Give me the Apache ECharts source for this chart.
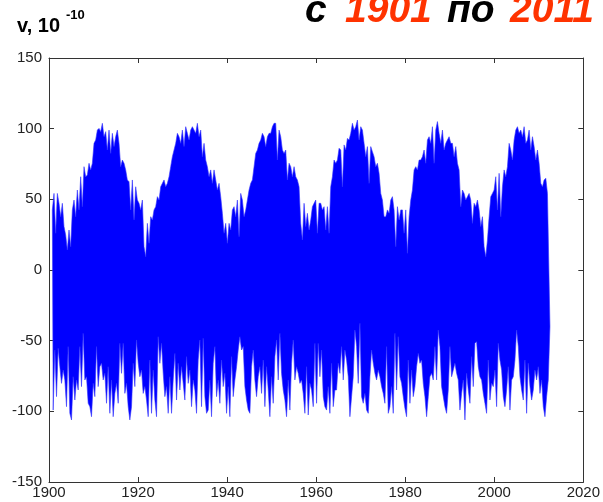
<!DOCTYPE html>
<html><head><meta charset="utf-8">
<script src="https://cdn.jsdelivr.net/npm/echarts@6/dist/echarts.min.js"></script>
<style>html,body{margin:0;padding:0;background:#fff}#c{width:603px;height:502px}</style>
</head><body><div id="c"></div>
<script>
// Tick labels
const xTicks = [1900, 1920, 1940, 1960, 1980, 2000, 2020];
const yTicks = [-150, -100, -50, 0, 50, 100, 150];

// Sampling of the signal (years)
const startYear = 1900.75;
const sampleStep = 0.3744;

// Upper extremes of the oscillation (v, 10^-10)
const upperPeaks = [
42.5,54.2,26.0,54.2,47.2,37.7,47.2,30.7,24.8,14.2,28.3,16.5,42.5,49.5,37.7,56.6,42.5,66.0,44.8,73.1,66.0,67.2,75.5,70.8,75.5,89.6,92.0,99.0,100.2,97.9,103.8,94.3,97.9,84.9,99.0,82.5,96.7,87.3,94.3,99.0,89.6,73.1,77.8,75.5,70.8,63.7,62.5,42.5,63.7,35.4,58.9,49.5,47.2,42.5,49.5,16.5,9.4,33.0,18.9,37.7,35.4,42.5,44.8,51.9,49.5,58.9,61.3,63.7,58.9,61.3,66.0,73.1,80.2,84.9,89.6,96.7,94.3,89.6,99.0,87.3,101.4,96.7,92.0,99.0,101.4,99.0,96.7,103.8,94.3,99.0,80.2,89.6,77.8,73.1,66.0,70.8,61.3,70.8,63.7,56.6,61.3,51.9,40.1,26.0,33.0,18.9,33.0,28.3,42.5,44.8,37.7,49.5,23.6,54.2,49.5,37.7,42.5,49.5,56.6,61.3,63.7,73.1,82.5,84.9,89.6,92.0,96.7,94.3,87.3,94.3,96.7,96.7,101.4,103.8,103.8,77.8,99.0,94.3,84.9,82.5,84.9,63.7,75.5,73.1,66.0,73.1,66.0,63.7,58.9,
33.0,21.2,47.2,30.7,40.1,28.3,35.4,44.8,47.2,49.5,26.0,47.2,47.2,42.5,44.8,28.3,44.8,26.0,58.9,66.0,77.8,75.5,77.8,86.1,84.9,58.9,88.5,84.9,93.1,92.0,96.7,103.8,99.0,101.4,106.1,92.0,101.4,99.0,89.6,80.2,87.3,61.3,87.3,83.7,80.2,73.1,75.5,68.4,54.2,49.5,37.7,37.7,42.5,40.1,49.5,51.9,42.5,16.5,44.8,35.4,42.5,42.5,26.0,42.5,11.8,37.7,49.5,56.6,70.8,73.1,70.8,77.8,77.8,80.2,84.9,75.5,92.0,94.3,89.6,101.4,75.5,99.0,105.0,96.7,89.6,99.0,84.9,89.6,92.0,94.3,89.6,89.6,80.2,87.3,75.5,70.8,44.8,56.6,54.2,49.5,51.9,54.2,49.5,33.0,47.2,44.8,49.5,42.5,30.7,37.7,16.5,9.4,21.2,37.7,51.9,54.2,56.6,66.0,42.5,68.4,37.7,58.9,70.8,66.0,73.1,89.6,84.9,77.8,92.0,99.0,101.4,96.7,99.0,94.3,101.4,89.6,92.0,99.0,84.9,94.3,87.3,77.8,84.9,75.5,61.3,58.9,63.7,64.9,54.2
];

// Lower extremes of the oscillation (v, 10^-10)
const lowerTroughs = [
-99.1,-56.6,-89.6,-55.4,-68.4,-80.2,-70.8,-77.8,-96.7,-54.2,-101.4,-106.1,-75.5,-92.0,-77.8,-84.9,-54.2,-82.5,-44.8,-77.8,-75.5,-94.3,-96.7,-103.8,-80.2,-89.6,-54.2,-82.5,-68.4,-66.0,-77.8,-73.1,-94.3,-68.4,-101.4,-77.8,-103.8,-87.3,-80.2,-94.3,-51.9,-73.1,-51.9,-87.3,-80.2,-96.7,-106.1,-96.7,-66.0,-82.5,-49.5,-66.0,-75.5,-70.8,-87.3,-82.5,-92.0,-103.8,-63.7,-101.4,-70.8,-92.0,-103.8,-47.2,-66.0,-51.9,-73.1,-89.6,-82.5,-101.4,-75.5,-101.4,-77.8,-59.0,-92.0,-66.0,-84.9,-68.4,-80.2,-92.0,-61.3,-80.2,-70.8,-96.7,-77.8,-84.9,-101.4,-63.7,-49.5,-96.7,-48.3,-89.6,-101.4,-99.1,-77.8,-103.8,-66.0,-54.2,-89.6,-77.8,-94.3,-63.7,-82.5,-73.1,-101.4,-82.5,-103.8,-61.3,-89.6,-77.8,-68.4,-56.6,-47.2,-56.6,-54.2,-82.5,-92.0,-99.1,-101.4,-68.4,-56.6,-77.8,-89.6,-75.5,-68.4,-87.3,-63.7,-96.7,-68.4,-84.9,-103.8,-75.5,-94.3,-61.3,-49.5,-77.8,-44.8,-73.1,-84.9,-92.0,-103.8,-77.8,-99.1,-66.0,-49.5,-77.8,-68.4,-73.1,-80.2,-77.8,
-87.3,-101.4,-68.4,-102.6,-80.2,-84.9,-96.7,-51.9,-94.3,-51.9,-75.5,-56.6,-89.6,-96.7,-99.1,-82.5,-101.4,-66.0,-96.7,-84.9,-84.9,-66.0,-73.1,-54.2,-77.8,-56.6,-63.7,-75.5,-103.8,-89.6,-75.5,-42.5,-54.2,-80.2,-37.7,-89.6,-94.3,-87.3,-99.1,-101.4,-75.5,-56.6,-66.0,-73.1,-77.8,-70.8,-75.5,-82.5,-87.3,-94.3,-54.2,-101.4,-96.7,-82.5,-101.4,-44.8,-84.9,-47.2,-75.5,-80.2,-89.6,-97.9,-103.8,-63.7,-94.3,-70.8,-89.6,-82.5,-68.4,-59.0,-66.0,-63.7,-80.2,-89.6,-103.8,-89.6,-75.5,-73.1,-77.8,-54.2,-77.8,-42.5,-54.2,-82.5,-89.6,-96.7,-101.4,-84.9,-54.2,-75.5,-70.8,-66.0,-73.1,-77.8,-99.1,-87.3,-77.8,-106.1,-73.1,-84.9,-94.3,-61.3,-82.5,-51.9,-50.7,-68.4,-75.5,-77.8,-87.3,-94.3,-101.4,-63.7,-92.0,-80.2,-82.5,-70.8,-96.7,-51.9,-63.7,-70.8,-89.6,-96.7,-84.9,-68.4,-99.1,-77.8,-75.5,-63.7,-42.5,-54.2,-75.5,-84.9,-92.0,-63.7,-101.4,-66.0,-82.5,-92.0,-84.9,-70.8,-77.8,-68.4,-87.3,-77.8,-96.7,-103.8,-89.6,-77.8,-40.1
];

// Title texts
const titleParts = ['с', '1901', 'по', '2011'];
const yName = 'v, 10';
const yNameExp = '-10';

// upper extremes (left to right) then lower extremes (right to left): band outline
const upperPts = upperPeaks.map((v, i) => [startYear + i * sampleStep, v]);
const lowerPts = lowerTroughs.map((v, i) => [startYear + (i + 0.5) * sampleStep, v]);
const bandPts = upperPts.concat(lowerPts.slice().reverse());

const tickFont = "'Liberation Sans', Arial, sans-serif";
const axisColor = '#333';
const xMin = xTicks[0], xMax = xTicks[xTicks.length - 1], xInt = xTicks[1] - xTicks[0];
const yMin = yTicks[0], yMax = yTicks[yTicks.length - 1], yInt = yTicks[1] - yTicks[0];

function axisCommon(extra) {
  return Object.assign({
    type: 'value',
    axisLine: {show: true, onZero: false, lineStyle: {color: axisColor, width: 1}},
    axisTick: {show: true, inside: true, length: 5, lineStyle: {color: axisColor}},
    splitLine: {show: false}
  }, extra);
}
const labelStyle = {fontSize: 15, fontFamily: tickFont, color: '#222', formatter: v => String(v)};

const chart = echarts.init(document.getElementById('c'), null, {renderer: 'canvas'});
chart.setOption({
  animation: false,
  backgroundColor: '#fff',
  grid: {left: 49, right: 19, top: 58, bottom: 20, containLabel: false},
  xAxis: [
    axisCommon({min: xMin, max: xMax, interval: xInt, position: 'bottom',
      axisLabel: Object.assign({show: true, margin: 3}, labelStyle)}),
    axisCommon({min: xMin, max: xMax, interval: xInt, position: 'top', axisLabel: {show: false}})
  ],
  yAxis: [
    axisCommon({min: yMin, max: yMax, interval: yInt, position: 'left',
      axisLabel: Object.assign({show: true, margin: 7}, labelStyle)}),
    axisCommon({min: yMin, max: yMax, interval: yInt, position: 'right', axisLabel: {show: false}})
  ],
  series: [{
    type: 'custom', xAxisIndex: 0, yAxisIndex: 0,
    data: [0],
    clip: true,
    renderItem: function (params, api) {
      return {
        type: 'polygon',
        shape: {points: bandPts.map(p => api.coord(p))},
        style: {fill: '#0000ff', stroke: '#3333ff', lineWidth: 0.6}
      };
    }
  }],
  graphic: [
    {type: 'text', left: 17, top: 16, style: {text: yName, font: "bold 20px 'Liberation Sans', Arial, sans-serif", fill: '#000'}},
    {type: 'text', left: 66, top: 9, style: {text: yNameExp, font: "bold 13px 'Liberation Sans', Arial, sans-serif", fill: '#000'}},
    {type: 'text', left: 305, top: -8, style: {text: titleParts[0], font: "italic bold 39px 'Liberation Sans', Arial, sans-serif", fill: '#000'}},
    {type: 'text', left: 345, top: -8, style: {text: titleParts[1], font: "italic bold 39px 'Liberation Sans', Arial, sans-serif", fill: '#ff3300'}},
    {type: 'text', left: 447, top: -8, style: {text: titleParts[2], font: "italic bold 39px 'Liberation Sans', Arial, sans-serif", fill: '#000'}},
    {type: 'text', left: 510, top: -8, style: {text: titleParts[3], font: "italic bold 39px 'Liberation Sans', Arial, sans-serif", fill: '#ff3300'}}
  ]
});
</script>
</body></html>
